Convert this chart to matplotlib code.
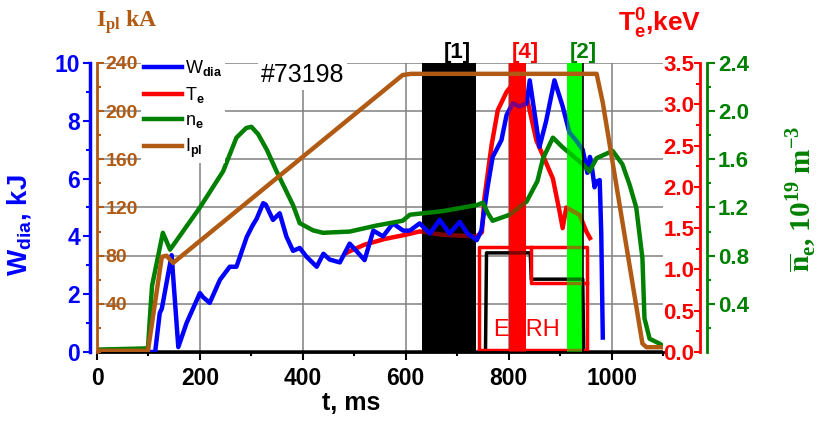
import matplotlib
matplotlib.use("Agg")
import matplotlib.pyplot as plt
from matplotlib.ticker import MultipleLocator, FormatStrFormatter
import numpy as np

plt.rcParams['font.family'] = ['Liberation Sans', 'DejaVu Sans']
plt.rcParams['font.weight'] = 'bold'
plt.rcParams['axes.labelweight'] = 'bold'
plt.rcParams['mathtext.fontset'] = 'custom'
plt.rcParams['mathtext.rm'] = 'Liberation Sans'
plt.rcParams['mathtext.it'] = 'Liberation Sans:italic'
plt.rcParams['mathtext.sf'] = 'Liberation Sans:bold'
plt.rcParams['mathtext.bf'] = 'Liberation Serif:bold'

BROWN = '#B05A14'
LIME = '#00FF00'
GREEN = '#008000'

# ---- data (shot #73198) ----
t_w = [0, 113, 122, 126, 145, 158, 174, 200, 206, 219, 239, 258, 271, 291, 303, 310,
       323, 328, 342, 355, 368, 381, 394, 407, 427, 440, 452, 472, 491, 504, 520, 537,
       556, 575, 595, 608, 627, 647, 666, 685, 705, 720, 738, 747, 759, 769, 786, 796,
       808, 821, 835, 841, 860, 873, 889, 905, 918, 932, 944, 953, 958, 961, 967, 971,
       977, 980, 983]
w_dia = [0, 0, 1.35, 1.5, 3.35, 0.17, 1.0, 2.04, 1.9, 1.7, 2.5, 2.95, 2.95, 3.98, 4.4, 4.6,
         5.15, 5.1, 4.57, 4.8, 4.0, 3.5, 3.6, 3.3, 2.95, 3.4, 3.2, 3.1, 3.75, 3.5, 3.18, 4.2,
         4.0, 4.45, 4.2, 4.2, 4.45, 4.1, 4.57, 4.1, 4.5, 4.1, 3.87, 4.2, 5.7, 6.75, 7.33, 8.2,
         8.6, 8.5, 8.6, 9.4, 7.1, 8.0, 9.4, 8.5, 7.6, 7.3, 7.0, 6.2, 6.75, 6.5, 5.7, 5.9,
         5.95, 4.1, 0.5]

t_te = [485, 491, 520, 560, 600, 627, 672, 738, 748, 753, 767, 779, 796, 815, 835, 854,
        866, 886, 899, 905, 912, 938, 951, 958]
te = [1.2, 1.22, 1.3, 1.37, 1.42, 1.46, 1.42, 1.40, 1.45, 1.87, 2.51, 2.93, 3.15, 3.3, 3.09, 2.56,
      2.39, 2.1, 1.7, 1.5, 1.75, 1.66, 1.46, 1.38]

t_ne = [0, 99, 103, 107, 128, 142, 200, 245, 271, 290, 300, 313, 330, 349, 381, 394, 420,
        439, 491, 543, 594, 608, 672, 738, 750, 760, 769, 802, 835, 856, 867, 886, 905,
        944, 957, 971, 1002, 1021, 1035, 1048, 1060, 1064, 1074, 1093, 1100]
ne = [0.02, 0.03, 0.3, 0.55, 0.99, 0.85, 1.2, 1.5, 1.78, 1.86, 1.87, 1.81, 1.68, 1.5, 1.22, 1.07, 1.01,
      0.99, 1.0, 1.05, 1.09, 1.14, 1.17, 1.22, 1.24, 1.15, 1.09, 1.14, 1.25, 1.42, 1.61, 1.78, 1.7,
      1.56, 1.5, 1.61, 1.67, 1.56, 1.39, 1.2, 0.78, 0.28, 0.11, 0.07, 0.05]

t_ip = [0, 99, 126, 135, 148, 594, 610, 971, 983, 1060, 1068, 1100]
ip = [1, 1, 79, 80, 74, 230, 231, 231, 207, 7, 4, 4]

# ECRH power trace (arb., drawn on W scale) and the ECRH box
t_ecrh = [0, 755, 757, 842, 844, 944, 946, 1100]
p_ecrh = [0, 0, 3.43, 3.43, 2.52, 2.52, 0, 0]
box_t = [742, 742, 953, 953, 742]
box_w = [0.07, 3.63, 3.63, 0.07, 0.07]
step_t = [844, 844, 953]
step_w = [3.63, 2.39, 2.39]

# analysis windows
band_names = ['[1]', '[4]', '[2]']
band_start = [631, 800, 913]
band_end = [736, 833, 944]
band_colors = ['black', 'red', LIME]

fig = plt.figure(figsize=(8.22, 4.38), dpi=100)
ax = fig.add_axes([97/822, 86/438, 566/822, 289/438])

ax_i = ax.twinx()
ax_w = ax.twinx()
ax_t = ax.twinx()
ax_n = ax.twinx()
for a in (ax_i, ax_w, ax_t, ax_n):
    for s in a.spines.values():
        s.set_visible(False)

# main axes: x axis + grid (grid on the I_pl ticks)
ax.set_xlim(0, 1100)
ax.set_ylim(0, 240)
ax.set_xticks(np.arange(0, 1001, 200))
ax.xaxis.set_minor_locator(MultipleLocator(100))
ax.yaxis.set_major_locator(MultipleLocator(40))
ax.tick_params(axis='y', length=0, labelleft=False, labelright=False)
ax.tick_params(axis='x', which='major', length=6, width=1.5, labelsize=16.5, pad=5)
ax.tick_params(axis='x', which='minor', length=3, width=1.5)
for lbl in ax.get_xticklabels():
    lbl.set_fontweight('bold')
ax.grid(True, color='grey', lw=1.1)
ax.set_axisbelow(True)
for s in ['top', 'right', 'left']:
    ax.spines[s].set_visible(False)
ax.spines['bottom'].set_linewidth(2)
ax.set_xlabel('t, ms', fontsize=18, fontweight='bold')
ax.xaxis.set_label_coords((351-97)/566, -0.135)

# I_pl axis (brown, labels inside)
ax_i.set_ylim(0, 240)
ax_i.spines['right'].set_visible(True)
ax_i.spines['right'].set_position(('axes', 0))
ax_i.spines['right'].set_color(BROWN)
ax_i.spines['right'].set_linewidth(2)
ax_i.set_yticks(np.arange(40, 241, 40))
ax_i.yaxis.set_minor_locator(MultipleLocator(20))
ax_i.tick_params(axis='y', which='both', colors=BROWN, labelsize=14, width=1.5, pad=1)
ax_i.tick_params(axis='y', which='major', length=5)
ax_i.tick_params(axis='y', which='minor', length=3)

# W_dia axis (blue, left)
ax_w.set_ylim(0, 10)
ax_w.yaxis.tick_left()
ax_w.yaxis.set_label_position('left')
ax_w.spines['left'].set_visible(True)
ax_w.spines['left'].set_position(('axes', -7/566))
ax_w.spines['left'].set_color('blue')
ax_w.spines['left'].set_linewidth(2.5)
ax_w.yaxis.set_major_locator(MultipleLocator(2))
ax_w.yaxis.set_minor_locator(MultipleLocator(1))
ax_w.tick_params(axis='y', which='both', colors='blue', labelsize=16.5, width=1.5, pad=2)
ax_w.tick_params(axis='y', which='major', length=5)
ax_w.tick_params(axis='y', which='minor', length=3)
ax_w.set_ylabel(r'$\mathsf{W_{dia}}$, kJ', color='blue', fontsize=20, fontweight='bold')
ax_w.yaxis.set_label_coords(-0.113, 0.44)

# T_e axis (red, outside right, labels on its left)
ax_t.set_ylim(0, 3.5)
ax_t.yaxis.tick_left()
ax_t.spines['left'].set_visible(True)
ax_t.spines['left'].set_position(('axes', (700-97)/566))
ax_t.spines['left'].set_color('red')
ax_t.spines['left'].set_linewidth(2)
ax_t.yaxis.set_major_locator(MultipleLocator(0.5))
ax_t.yaxis.set_minor_locator(MultipleLocator(0.25))
ax_t.yaxis.set_major_formatter(FormatStrFormatter('%.1f'))
ax_t.tick_params(axis='y', which='both', colors='red', labelsize=16, width=1.5, pad=0)
ax_t.tick_params(axis='y', which='major', length=4)
ax_t.tick_params(axis='y', which='minor', length=3)

# n_e axis (green, far right)
ax_n.set_ylim(0, 2.4)
ax_n.spines['right'].set_visible(True)
ax_n.spines['right'].set_position(('axes', (707-97)/566))
ax_n.spines['right'].set_color(GREEN)
ax_n.spines['right'].set_linewidth(2)
ax_n.set_yticks(np.arange(0.4, 2.41, 0.4))
ax_n.set_yticks(np.arange(0.2, 2.4, 0.4), minor=True)
ax_n.yaxis.set_major_formatter(FormatStrFormatter('%.1f'))
ax_n.tick_params(axis='y', which='both', colors=GREEN, labelsize=16, width=1.5, pad=2)
ax_n.tick_params(axis='y', which='major', length=6)
ax_n.tick_params(axis='y', which='minor', length=3)
ax_n.set_ylabel(r'$\overline{\mathbf{n}}_{\mathbf{e}}$, 10$^{\mathbf{19}}$ m$^{\mathbf{-3}}$',
                color=GREEN, fontsize=21, family='Liberation Serif', fontweight='bold')
ax_n.yaxis.set_label_coords(1.212, 0.53)

# ---- bands (opaque under the traces, translucent copy on top) ----
for x0, x1, c in zip(band_start, band_end, band_colors):
    ax.axvspan(x0, x1, color=c, lw=0, zorder=1)
for x0, x1, c in zip(band_start, band_end, band_colors):
    ax.axvspan(x0, x1, color=c, lw=0, alpha=0.5, zorder=2.5 if c == 'black' else 3.5)
for x0, x1, c, name in zip(band_start, band_end, band_colors, band_names):
    tc = GREEN if c == LIME else c
    ax.annotate(name, xy=((x0 + x1) / 2, 1.038), xycoords=ax.get_xaxis_transform(),
                xytext=(6, 0), textcoords='offset points', ha='center', va='center',
                fontsize=16, fontweight='bold', color=tc, annotation_clip=False)
ax.axvline(band_end[2], color='black', lw=1.2, zorder=3.6)

# ECRH trace and box
ax.plot(t_ecrh, p_ecrh, color='black', lw=2.5, transform=ax_w.transData, zorder=1.5)
ax.plot(box_t, box_w, color='red', lw=2.5, transform=ax_w.transData, zorder=1.5)
ax.plot(step_t, step_w, color='red', lw=2.5, transform=ax_w.transData, zorder=1.5)
ax.text(835, 0.75, 'ECRH', color='red', fontsize=17, fontweight='normal',
        ha='center', va='center', transform=ax_w.transData, zorder=0.9)

# traces
ln_t, = ax.plot(t_te, te, color='red', lw=3.2, transform=ax_t.transData, zorder=2)
ln_w, = ax.plot(t_w, w_dia, color='blue', lw=3.2, transform=ax_w.transData, zorder=3)
ln_n, = ax.plot(t_ne, ne, color=GREEN, lw=3.2, transform=ax_n.transData, zorder=3)
ln_i, = ax.plot(t_ip, ip, color=BROWN, lw=3.2, transform=ax_i.transData, zorder=4)

ax.set_xlim(0, 1100)
ax.set_ylim(0, 240)

leg = ax.legend([ln_w, ln_t, ln_n, ln_i],
                [r'W$_{\mathrm{dia}}$', r'T$_{\mathrm{e}}$', r'n$_{\mathrm{e}}$', r'I$_{\mathrm{pl}}$'],
                loc='upper left', bbox_to_anchor=((141-97)/566, 1.025), frameon=True,
                fancybox=False, edgecolor='none', facecolor='white', framealpha=1,
                prop={'size': 13, 'weight': 'normal'}, handlelength=2.1,
                handletextpad=0.2, labelspacing=0.38, borderpad=0.15, borderaxespad=0)
leg.set_zorder(5)

ax.text(400, 0.958, '#73198', transform=ax.get_xaxis_transform(), ha='center', va='center',
        fontsize=18, fontweight='normal', bbox=dict(fc='white', ec='none', pad=2), zorder=5)

fig.text(127/822, 1 - 22/438, r'$\mathbf{I_{pl}}$ kA', color=BROWN, family='Liberation Serif',
         fontsize=17, fontweight='bold', ha='center', va='center')
fig.text(660/822, 1 - 24/438, r'$\mathsf{T^0_e}$,keV', color='red', fontsize=19,
         fontweight='bold', ha='center', va='center')

fig.savefig('out.png', dpi=100)
